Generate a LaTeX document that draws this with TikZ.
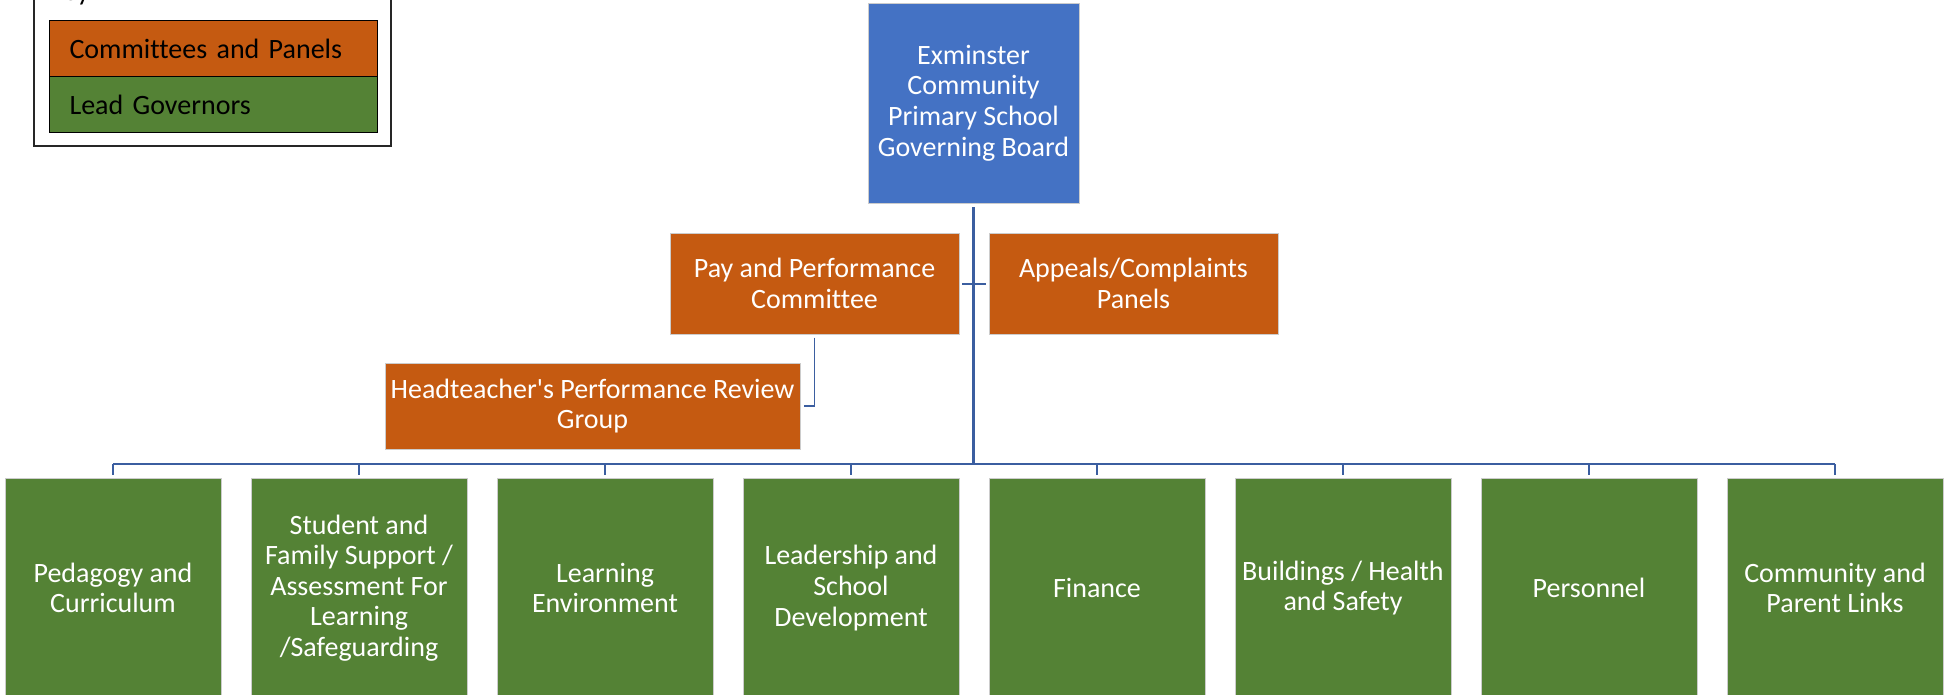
\documentclass[tikz,border=0pt]{standalone}
\usepackage{fontspec}
\setmainfont{Carlito}[Ligatures={NoCommon}]
\definecolor{boardblue}{HTML}{4472C4}
\definecolor{panelorange}{HTML}{C55A11}
\definecolor{leadgreen}{HTML}{548235}
\definecolor{linkblue}{RGB}{59,94,160}
\begin{document}
\begin{tikzpicture}[x=0.75pt,y=-0.75pt,
  boxtext/.style={font=\fontsize{21}{22.9}\selectfont},
  orgbox/.style n args={2}{rectangle, draw=white!80!black, line width=0.5pt,
    text=white, align=center, inner sep=0pt, boxtext,
    minimum width=#1*0.75pt, minimum height=#2*0.75pt},
  boardbox/.style={orgbox={211}{200}, fill=boardblue},
  panelbox/.style n args={2}{orgbox={#1}{#2}, fill=panelorange},
  leadbox/.style={orgbox={216}{220}, fill=leadgreen},
  keybox/.style={rectangle, draw=black, line width=0.8pt, text=black, boxtext,
    anchor=north west, align=left, inner xsep=15pt, inner ysep=0pt,
    text width=216pt, minimum height=56*0.75pt},
  link/.style={draw=linkblue, line width=1.5pt},
  trunk/.style={draw=linkblue, line width=2pt}
]
\useasboundingbox (0,0) rectangle (1949,694);

% key
\draw[black!85, line width=1.1pt] (34,-60) rectangle (391,146);
\node[boxtext, anchor=base west, inner sep=0pt] (keytitle) at (49,0.5) {Key};
\node[keybox, fill=panelorange] (keycom) at (49,20) {Committees and Panels};
\node[keybox, fill=leadgreen] (keylead) at (49,76) {Lead Governors};

% board, committees and panels
\node[boardbox] (board) at (973.5,103) {Exminster\\Community\\Primary School\\Governing Board};
\node[panelbox={289}{101}] (pay) at (814.5,283.5) {Pay and Performance\\Committee};
\node[panelbox={289}{101}] (appeals) at (1133.5,283.5) {Appeals/Complaints\\Panels};
\node[panelbox={415}{86}] (head) at (592.5,406) {Headteacher\textquotesingle s Performance Review\\Group};

% lead governor areas
\node[leadbox] (g1) at (113,588) {Pedagogy and\\Curriculum};
\node[leadbox] (g2) at (359,588) {Student and\\Family Support /\\Assessment For\\Learning\\/Safeguarding};
\node[leadbox] (g3) at (605,588) {Learning\\Environment};
\node[leadbox] (g4) at (851,588) {Leadership and\\School\\Development};
\node[leadbox] (g5) at (1097,588) {Finance};
\node[leadbox] (g6) at (1343,588) {Buildings / Health\\and Safety};
\node[leadbox] (g7) at (1589,588) {Personnel};
\node[leadbox] (g8) at (1835,588) {Community and\\Parent Links};

% connectors
\coordinate (busmid) at (974,464);
\coordinate (busleft) at (113,464);
\coordinate (busright) at (1835,464);
\draw[trunk, shorten <=3pt] (board.south) -- (board.south |- busmid);
\draw[link, shorten <=2.2pt, shorten >=2.2pt] (pay.east) -- (appeals.west);
\draw[link, line width=1.3pt, shorten <=2.5pt, shorten >=2.5pt] (pay.south) |- (head.east);
\draw[link] (busleft) -- (busright);
\foreach \g in {g1,g2,g3,g4,g5,g6,g7,g8}
  \draw[link, line width=1.3pt, shorten >=2.2pt] (\g.north |- busmid) -- (\g.north);
\end{tikzpicture}
\end{document}
